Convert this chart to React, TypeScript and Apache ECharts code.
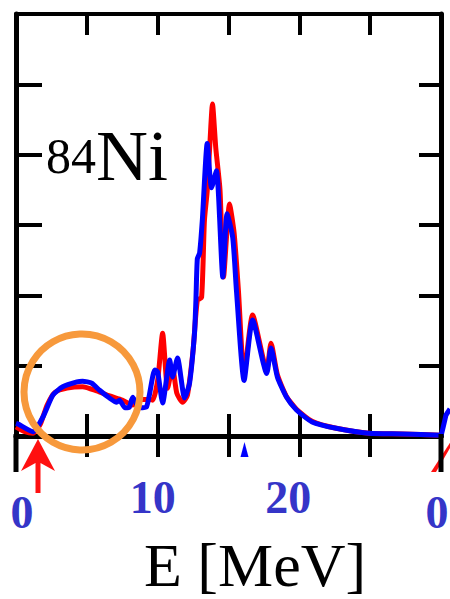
import React, { useEffect, useRef } from 'react';
import * as echarts from 'echarts';

// Blue curve: excitation energy (MeV) and strength
const blueE = [0, 0.14, 1.2, 1.9, 2.6, 3.3, 4.3, 4.7, 5.35, 5.9, 6.6, 7.1, 7.3, 7.7, 8.0, 8.24, 8.7, 9.2, 9.8, 10.0, 10.35, 10.85, 11.05, 11.4, 11.9, 12.25, 12.6, 12.7, 12.8, 12.96, 13.15, 13.5, 13.8, 14.15, 14.6, 14.9, 15.3, 15.56, 16.1, 16.7, 17.7, 18.0, 18.45, 19.1, 19.8, 20.9, 22.6, 24.9, 27.25, 30];
const blueS = [0.18, 0.17, 0.06, 0.27, 0.58, 0.7, 0.77, 0.78, 0.75, 0.65, 0.54, 0.48, 0.51, 0.4, 0.41, 0.55, 0.4, 0.41, 0.94, 0.91, 0.47, 1.08, 0.84, 1.11, 0.54, 0.75, 1.46, 1.93, 2.52, 2.6, 3.06, 4.16, 3.53, 3.77, 2.26, 3.16, 2.82, 2.07, 0.79, 1.65, 0.89, 1.25, 0.84, 0.55, 0.37, 0.2, 0.11, 0.04, 0.03, 0.01];

// Red curve
const redE = [0, 0.63, 1.2, 1.7, 2.2, 2.75, 3.6, 4.7, 5.7, 6.6, 7.5, 8.25, 8.9, 9.4, 9.65, 10.0, 10.35, 10.7, 11.05, 11.35, 11.76, 12.1, 12.5, 12.8, 13.1, 13.3, 13.5, 13.66, 13.87, 14.1, 14.4, 14.65, 15.07, 15.4, 15.7, 16.1, 16.7, 17.7, 18.0, 18.45, 19.1, 19.8, 20.9, 22.6, 24.9, 27.25, 30];
const redS = [0.13, 0.06, 0.04, 0.16, 0.44, 0.62, 0.68, 0.7, 0.64, 0.57, 0.51, 0.44, 0.52, 0.52, 0.51, 0.79, 1.46, 0.68, 0.98, 0.61, 0.48, 0.58, 1.22, 1.93, 1.97, 3.06, 3.49, 4.06, 4.72, 4.1, 3.5, 2.26, 3.3, 2.88, 2.07, 0.87, 1.72, 0.94, 1.32, 0.87, 0.56, 0.38, 0.21, 0.11, 0.04, 0.03, 0.01];

// Tick labels
const xTickValues = [0, 10, 20, 30];
const xTickTexts = ['0', '10', '20', '0'];
const xTickStyles = ['z', 'a', 'b', 'r'];

const xMin = 0;
const xMax = 30;
const xStep = 5;
const yMin = 0;
const yMax = 6;
const yStep = 1;

const SERIF = "'Liberation Serif', 'Times New Roman', serif";

export default function App() {
  const ref = useRef<HTMLDivElement>(null);
  useEffect(() => {
    const chart = echarts.init(ref.current!, null, { renderer: 'svg' });
    const blueData = blueE.map((e, i) => [e, blueS[i]]);
    const redData = redE.map((e, i) => [e, redS[i]]);
    const labelFont = { fontFamily: SERIF, fontWeight: 'bold' as const, fontSize: 46, color: '#3535c8' };
    const noLine = { show: false };
    chart.setOption({
      animation: false,
      backgroundColor: '#ffffff',
      grid: { left: 16, right: 9, top: 14, bottom: 163, containLabel: false, outerBoundsMode: 'none' },
      xAxis: [
        {
          type: 'value', min: xMin, max: xMax, interval: xStep, position: 'bottom',
          axisLine: { show: true, onZero: false, lineStyle: { color: '#000', width: 5 } },
          axisTick: { show: true, inside: true, length: 22, lineStyle: { color: '#000', width: 4 } },
          splitLine: noLine,
          axisLabel: {
            show: true, margin: 38, showMinLabel: true, showMaxLabel: true, hideOverlap: false,
            ...labelFont,
            formatter: (v: number) => {
              const i = xTickValues.indexOf(v);
              if (i < 0) return '';
              return `{${xTickStyles[i]}|${xTickTexts[i]}}`;
            },
            rich: {
              z: { ...labelFont, padding: [15, 0, 0, 12] },
              a: { ...labelFont, padding: [0, 10, 0, 0] },
              b: { ...labelFont, padding: [0, 22, 0, 0] },
              r: { ...labelFont, padding: [15, 8, 0, 0] },
            },
          },
        },
        {
          type: 'value', min: xMin, max: xMax, interval: xStep, position: 'bottom',
          axisLine: { show: false, onZero: false },
          axisTick: { show: true, inside: false, length: 21, lineStyle: { color: '#000', width: 4 } },
          axisLabel: { show: false },
          splitLine: noLine,
        },
        {
          type: 'value', min: xMin, max: xMax, interval: xStep, position: 'top',
          axisLine: { show: true, onZero: false, lineStyle: { color: '#000', width: 4 } },
          axisTick: { show: true, inside: true, length: 21, lineStyle: { color: '#000', width: 4 } },
          axisLabel: { show: false },
          splitLine: noLine,
        },
      ],
      yAxis: [
        {
          type: 'value', min: yMin, max: yMax, interval: yStep, position: 'left',
          axisLine: { show: true, onZero: false, lineStyle: { color: '#000', width: 5 } },
          axisTick: { show: true, inside: true, length: 26, lineStyle: { color: '#000', width: 4 } },
          axisLabel: { show: false },
          splitLine: noLine,
        },
        {
          type: 'value', min: yMin, max: yMax, interval: yStep, position: 'right',
          axisLine: { show: true, onZero: false, lineStyle: { color: '#000', width: 5 } },
          axisTick: { show: true, inside: true, length: 22, lineStyle: { color: '#000', width: 4 } },
          axisLabel: { show: false },
          splitLine: noLine,
        },
      ],
      series: [
        {
          type: 'line', name: 'red', data: redData, xAxisIndex: 0, yAxisIndex: 0,
          symbol: 'none', smooth: 0.2, z: 3,
          lineStyle: { color: '#ff0000', width: 5, join: 'round' },
        },
        {
          type: 'line', name: 'blue', data: blueData, xAxisIndex: 0, yAxisIndex: 0,
          symbol: 'none', smooth: 0.2, z: 4,
          lineStyle: { color: '#0000ff', width: 5, join: 'round' },
        },
      ],
      graphic: [
        { type: 'line', z: 50, shape: { x1: 16, y1: 434, x2: 16, y2: 472 }, style: { stroke: '#000', lineWidth: 5 } },
        { type: 'line', z: 50, shape: { x1: 441, y1: 434, x2: 441, y2: 472 }, style: { stroke: '#000', lineWidth: 5 } },
        {
          type: 'polygon', z: 60,
          shape: { points: [[38, 439], [55, 471], [40.5, 463], [40.5, 493], [35.5, 493], [35.5, 463], [21, 471]] },
          style: { fill: '#ff1010' },
        },
        {
          type: 'polygon', z: 60,
          shape: { points: [[244.5, 442], [248.5, 457], [240.5, 457]] },
          style: { fill: '#0000ff' },
        },
        {
          type: 'polyline', z: 40,
          shape: { points: [[441, 436], [443, 428], [446, 415], [450, 409]] },
          style: { stroke: '#0000ff', lineWidth: 5, fill: 'none' },
        },
        {
          type: 'polygon', z: 40,
          shape: { points: [[453, 438], [450, 448], [436, 472], [431, 472]] },
          style: { fill: '#ff1010' },
        },
        {
          type: 'circle', z: 100,
          shape: { cx: 82, cy: 392, r: 58 },
          style: { fill: 'none', stroke: '#f7993c', lineWidth: 7 },
        },
        {
          type: 'text', z: 100, x: 46, y: 131,
          style: { text: '84', font: `50px ${SERIF}`, fill: '#000', verticalAlign: 'top', align: 'left' },
        },
        {
          type: 'text', z: 100, x: 96, y: 120,
          style: { text: 'Ni', font: `72px ${SERIF}`, fill: '#000', verticalAlign: 'top', align: 'left' },
        },
        {
          type: 'text', z: 100, x: 144, y: 534,
          style: { text: 'E [MeV]', font: `62px ${SERIF}`, fill: '#000', verticalAlign: 'top', align: 'left' },
        },
      ],
    });
    return () => chart.dispose();
  }, []);
  return <div ref={ref} style={{ position: 'absolute', left: 0, top: 0, width: 450, height: 599 }} />;
}
